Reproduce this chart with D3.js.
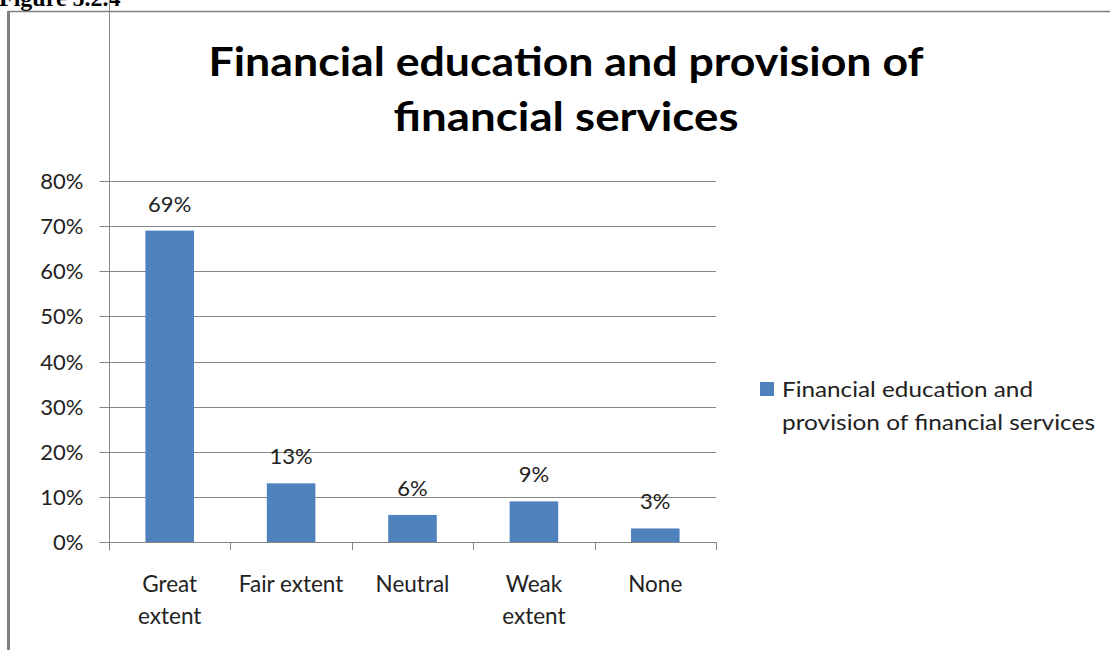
<!DOCTYPE html>
<html>
<head>
<meta charset="utf-8">
<script src="https://cdn.jsdelivr.net/npm/d3@7"></script>
<style>
  html, body { margin: 0; padding: 0; background: #fff; }
  svg { display: block; }
</style>
</head>
<body>
<svg id="chart" width="1110" height="650"></svg>
<script>
// Survey responses: extent of financial education and provision of financial services
const categories = [["Great", "extent"], ["Fair extent"], ["Neutral"], ["Weak", "extent"], ["None"]];
const values = [0.69, 0.13, 0.06, 0.09, 0.03];
const valueLabels = ["69%", "13%", "6%", "9%", "3%"];
const yTicks = [0, 0.1, 0.2, 0.3, 0.4, 0.5, 0.6, 0.7, 0.8];
const titleLines = ["Financial education and provision of", "financial services"];
const legendLines = ["Financial education and", "provision of financial services"];
const seriesName = "Financial education and provision of financial services";

const svg = d3.select("#chart");
const font = "Lato, 'Open Sans', sans-serif";
const barColor = "#4F81BD";
const gridColor = "#868686";

// Document caption above the chart frame (only its lower part fits on the page)
svg.append("text")
  .attr("x", -1).attr("y", 6)
  .attr("font-family", "'Liberation Serif', 'Times New Roman', serif")
  .attr("font-weight", "bold").attr("font-size", 24)
  .attr("fill", "#000")
  .text("Figure 5.2.4");

// Chart frame (left and top edges)
svg.append("line").attr("x1", 8.5).attr("x2", 8.5).attr("y1", 11).attr("y2", 650)
  .attr("stroke", "#808080").attr("stroke-width", 3);
svg.append("line").attr("x1", 8).attr("x2", 1110).attr("y1", 11.5).attr("y2", 11.5)
  .attr("stroke", "#808080").attr("stroke-width", 1.5);

// Title
const titleWidths = [715, 345];
titleLines.forEach((t, i) => {
  svg.append("text")
    .attr("x", 566).attr("y", 76 + i * 55)
    .attr("text-anchor", "middle")
    .attr("font-family", font).attr("font-weight", "bold").attr("font-size", 40)
    .attr("fill", "#000")
    .attr("textLength", titleWidths[i]).attr("lengthAdjust", "spacingAndGlyphs")
    .text(t);
});

// Scales
const x = d3.scaleBand()
  .domain(d3.range(categories.length))
  .range([109, 716])
  .paddingInner(0.6).paddingOuter(0.3);
const y = d3.scaleLinear().domain([0, 0.8]).range([542, 181]);

// Gridlines
svg.append("g")
  .selectAll("line").data(yTicks.slice(1)).join("line")
  .attr("x1", 109).attr("x2", 716)
  .attr("y1", d => Math.round(y(d)) + 0.5).attr("y2", d => Math.round(y(d)) + 0.5)
  .attr("stroke", gridColor).attr("stroke-width", 1);

// Y axis
const yAxis = svg.append("g")
  .attr("transform", "translate(109.5,0.5)")
  .call(d3.axisLeft(y).tickValues(yTicks).tickSize(10).tickPadding(16)
    .tickFormat(d3.format(".0%")));
yAxis.select(".domain").attr("stroke", gridColor).attr("d", "M0,-0.5V550");
yAxis.selectAll(".tick line").attr("stroke", gridColor);
yAxis.selectAll(".tick text")
  .attr("font-family", font).attr("font-size", 22).attr("fill", "#222")
  .attr("dy", "0.36em");
yAxis.selectAll(".tick").attr("transform", d => `translate(0,${Math.round(y(d))})`);

// X axis baseline with category boundary ticks
const step = x.step();
const bounds = d3.range(categories.length + 1).map(i => 109 + i * step);
svg.append("line").attr("x1", 109).attr("x2", 716).attr("y1", 542.5).attr("y2", 542.5)
  .attr("stroke", gridColor);
svg.append("g").selectAll("line").data(bounds).join("line")
  .attr("x1", d => Math.round(d) + 0.5).attr("x2", d => Math.round(d) + 0.5)
  .attr("y1", 542).attr("y2", 550)
  .attr("stroke", gridColor);

// Bars
svg.append("g").selectAll("rect").data(values).join("rect")
  .attr("x", (d, i) => x(i))
  .attr("width", x.bandwidth())
  .attr("y", d => y(d))
  .attr("height", d => y(0) - y(d))
  .attr("fill", barColor);

// Value labels
svg.append("g").selectAll("text").data(values).join("text")
  .attr("x", (d, i) => x(i) + x.bandwidth() / 2)
  .attr("y", d => y(d) - 19)
  .attr("text-anchor", "middle")
  .attr("font-family", font).attr("font-size", 22).attr("fill", "#222")
  .text((d, i) => valueLabels[i]);

// Category labels
const catG = svg.append("g");
categories.forEach((lines, i) => {
  const t = catG.append("text")
    .attr("x", x(i) + x.bandwidth() / 2)
    .attr("y", 592)
    .attr("text-anchor", "middle")
    .attr("font-family", font).attr("font-size", 22.5).attr("fill", "#222");
  lines.forEach((l, j) => {
    t.append("tspan").attr("x", x(i) + x.bandwidth() / 2).attr("y", 592 + j * 32).text(l);
  });
});

// Legend
const legend = svg.append("g").attr("aria-label", seriesName);
legend.append("rect").attr("x", 760).attr("y", 382).attr("width", 14).attr("height", 14)
  .attr("fill", barColor);
const legendWidths = [251, 313];
legendLines.forEach((l, i) => {
  legend.append("text")
    .attr("x", 782).attr("y", 397 + i * 33)
    .attr("font-family", font).attr("font-size", 21).attr("fill", "#222")
    .attr("textLength", legendWidths[i]).attr("lengthAdjust", "spacingAndGlyphs")
    .text(l);
});
</script>
</body>
</html>
